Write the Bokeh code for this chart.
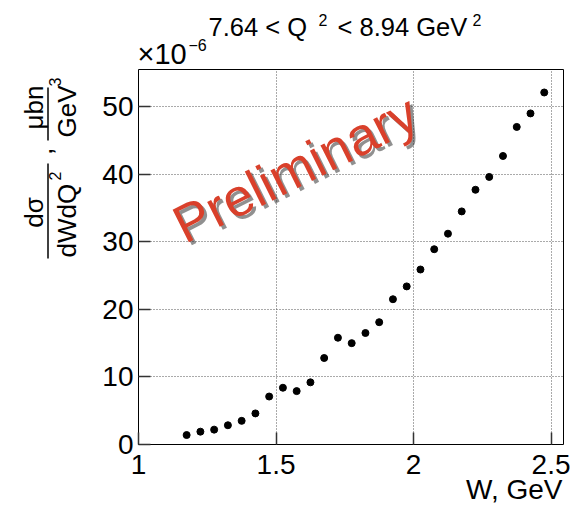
import math
from bokeh.plotting import figure
from bokeh.models import Range1d, FixedTicker
from bokeh.core.properties import value
from bokeh.embed import file_html
from bokeh.resources import INLINE

# ---- data ----
w_gev = [1.175, 1.225, 1.275, 1.325, 1.375, 1.425, 1.475, 1.525, 1.575,
         1.625, 1.675, 1.725, 1.775, 1.825, 1.875, 1.925, 1.975, 2.025,
         2.075, 2.125, 2.175, 2.225, 2.275, 2.325, 2.375, 2.425, 2.475]
xsec = [1.4, 1.9, 2.2, 2.85, 3.5, 4.6, 7.1, 8.4, 7.9,
        9.2, 12.8, 15.8, 15.0, 16.5, 18.1, 21.5, 23.4, 25.9,
        28.9, 31.2, 34.5, 37.7, 39.6, 42.7, 47.0, 49.0, 52.1]
x_ticks = [1, 1.5, 2, 2.5]
x_tick_labels = ["1", "1.5", "2", "2.5"]
y_ticks = [0, 10, 20, 30, 40, 50]
y_tick_labels = ["0", "10", "20", "30", "40", "50"]
title_main = "7.64 < Q"
title_mid = "< 8.94 GeV"
x_title = "W, GeV"
watermark = "Preliminary"

FONT = "Liberation Sans"
W, H = 570, 506
FL, FR, FT, FB = 138, 563, 69, 444
X0, X1 = 1.0, 2.545
Y0, Y1 = 0.0, 55.5
K_BASE = 0.46  # baseline correction for text glyphs (fraction of font size)

p = figure(width=W, height=H, output_backend="svg", toolbar_location=None,
           x_range=Range1d(X0, X1), y_range=Range1d(Y0, Y1),
           min_border_left=FL, min_border_right=W - FR,
           min_border_top=FT, min_border_bottom=H - FB)
p.background_fill_color = "white"
p.border_fill_color = "white"
p.outline_line_color = "black"
p.outline_line_width = 1

for ax, ticks, labels, standoff in ((p.xaxis, x_ticks, x_tick_labels, 10),
                                    (p.yaxis, y_ticks, y_tick_labels, 5)):
    ax.ticker = FixedTicker(ticks=ticks)
    ax.major_label_overrides = dict(zip(ticks, labels))
    ax.axis_line_color = None
    ax.major_tick_in = 12
    ax.major_tick_out = 0
    ax.minor_tick_line_color = None
    ax.major_tick_line_color = "#333333"
    ax.major_tick_line_width = 1.5
    ax.major_label_text_font = FONT
    ax.major_label_text_font_size = "28px"
    ax.major_label_text_color = "black"
    ax.major_label_standoff = standoff

p.xgrid.ticker = FixedTicker(ticks=x_ticks)
p.ygrid.ticker = FixedTicker(ticks=y_ticks)
for g in (p.xgrid, p.ygrid):
    g.grid_line_color = "#555555"
    g.grid_line_dash = "1 2"
    g.grid_line_width = 1

p.scatter(w_gev, xsec, size=7, color="black", marker="circle")


def X(px):
    return X0 + (px - FL) / (FR - FL) * (X1 - X0)


def Y(py):
    return Y0 + (FB - py) / (FB - FT) * (Y1 - Y0)


def txt(text, px, py, size, align="left", angle=0.0, color="black", alpha=1.0):
    # (px, py): wanted baseline anchor in picture pixels
    d = K_BASE * size
    ax_ = px - d * math.sin(angle)
    ay_ = py - d * math.cos(angle)
    p.text(x=[X(ax_)], y=[Y(ay_)], text=[text], text_font=value(FONT),
           text_font_size=value(f"{size}px"), text_align=align,
           text_baseline="alphabetic", angle=angle, text_color=color,
           text_alpha=alpha, level="overlay")


def bar(px, py0, py1):
    p.segment(x0=[X(px)], y0=[Y(py0)], x1=[X(px)], y1=[Y(py1)],
              line_color="black", line_width=1.5, level="overlay")


# watermark with shadow
ang = math.radians(26.5)
txt(watermark, 190, 252, 53, angle=ang, color="#222222", alpha=0.5)
txt(watermark, 187, 249, 53, angle=ang, color="#d9402b")

# title
txt(title_main, 208, 38, 25.5)
txt("2", 318, 27, 16)
txt(title_mid, 337, 38, 25.5)
txt("2", 472, 27, 16)

# exponent
txt("\u00d710", 137, 67, 29)
txt("\u22126", 188, 52, 16)

# y title: d sigma / dW dQ^2 , mu bn / GeV^3  (rotated, reads upward)
up = math.pi / 2
txt("d\u03c3", 45, 212, 26, align="center", angle=up)
bar(47.5, 163, 258)
txt("dWdQ", 78, 257, 26, angle=up)
txt("2", 62, 180, 16, angle=up)
txt(",", 54, 151, 26, align="center", angle=up)
txt("\u03bcbn", 45, 107, 26, align="center", angle=up)
bar(47.5, 87, 140)
txt("GeV", 78, 137, 26, angle=up)
txt("3", 62, 86, 16, angle=up)

# x title
txt(x_title, 562, 502, 28, align="right")

open("out.html", "w").write(file_html(p, INLINE))
